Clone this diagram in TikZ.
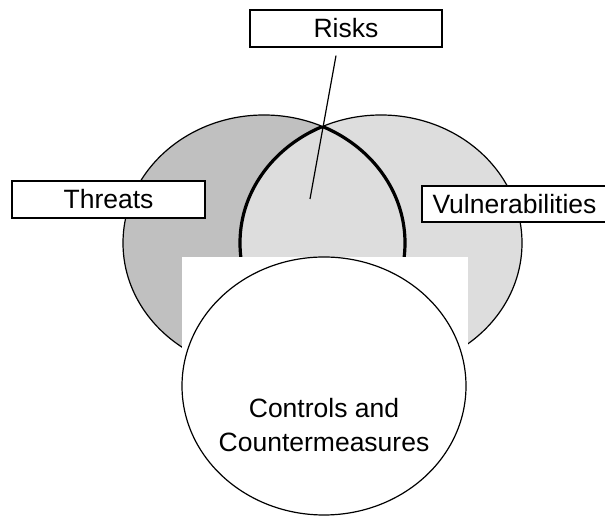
\documentclass[tikz,border=0pt]{standalone}
\usepackage{fontspec}
\setmainfont{Liberation Sans}
\usepackage{xcolor}
\definecolor{ThreatGray}{HTML}{C0C0C0}
\definecolor{VulnGray}{HTML}{DDDDDD}
\usepackage{tikz}

\begin{document}
\begin{tikzpicture}[x=1pt,y=1pt,line width=1.2pt,
  font=\fontsize{26.5}{34}\selectfont,
  labelbox/.style={draw=black,fill=white,inner sep=0pt,minimum height=37pt}]
  \useasboundingbox (0,0) rectangle (605,516);

  % Threats (left) and Vulnerabilities (right)
  \draw[fill=ThreatGray,draw=black] (264,273) ellipse [x radius=141,y radius=128];
  \draw[fill=VulnGray,draw=black] (381,273) ellipse [x radius=141,y radius=128];

  % Overlap = risks, thick outline
  \begin{scope}
    \clip (264,273) ellipse [x radius=141,y radius=128];
    \draw[line width=3.2pt] (381,273) ellipse [x radius=141,y radius=128];
  \end{scope}
  \begin{scope}
    \clip (381,273) ellipse [x radius=141,y radius=128];
    \draw[line width=3.2pt] (264,273) ellipse [x radius=141,y radius=128];
  \end{scope}

  % Controls cover the lower part
  \fill[white] (182,0) rectangle (468,259);
  \draw[fill=white,draw=black] (324,130) ellipse [x radius=142,y radius=129];
  \node[align=center] (controls) at (324,91) {Controls and\\Countermeasures};

  % Labels
  \node[labelbox,minimum width=192pt] (risks) at (346,487.5) {Risks};
  \node[labelbox,minimum width=193pt] (threats) at (108.5,316.5) {Threats};
  \node[labelbox,minimum width=185pt,minimum height=36pt] (vulns) at (514.5,312) {Vulnerabilities};

  % Pointer into the overlap
  \coordinate (risktip) at (310,317);
  \draw ([xshift=-10pt,yshift=-8pt]risks.south) -- (risktip);
\end{tikzpicture}
\end{document}
